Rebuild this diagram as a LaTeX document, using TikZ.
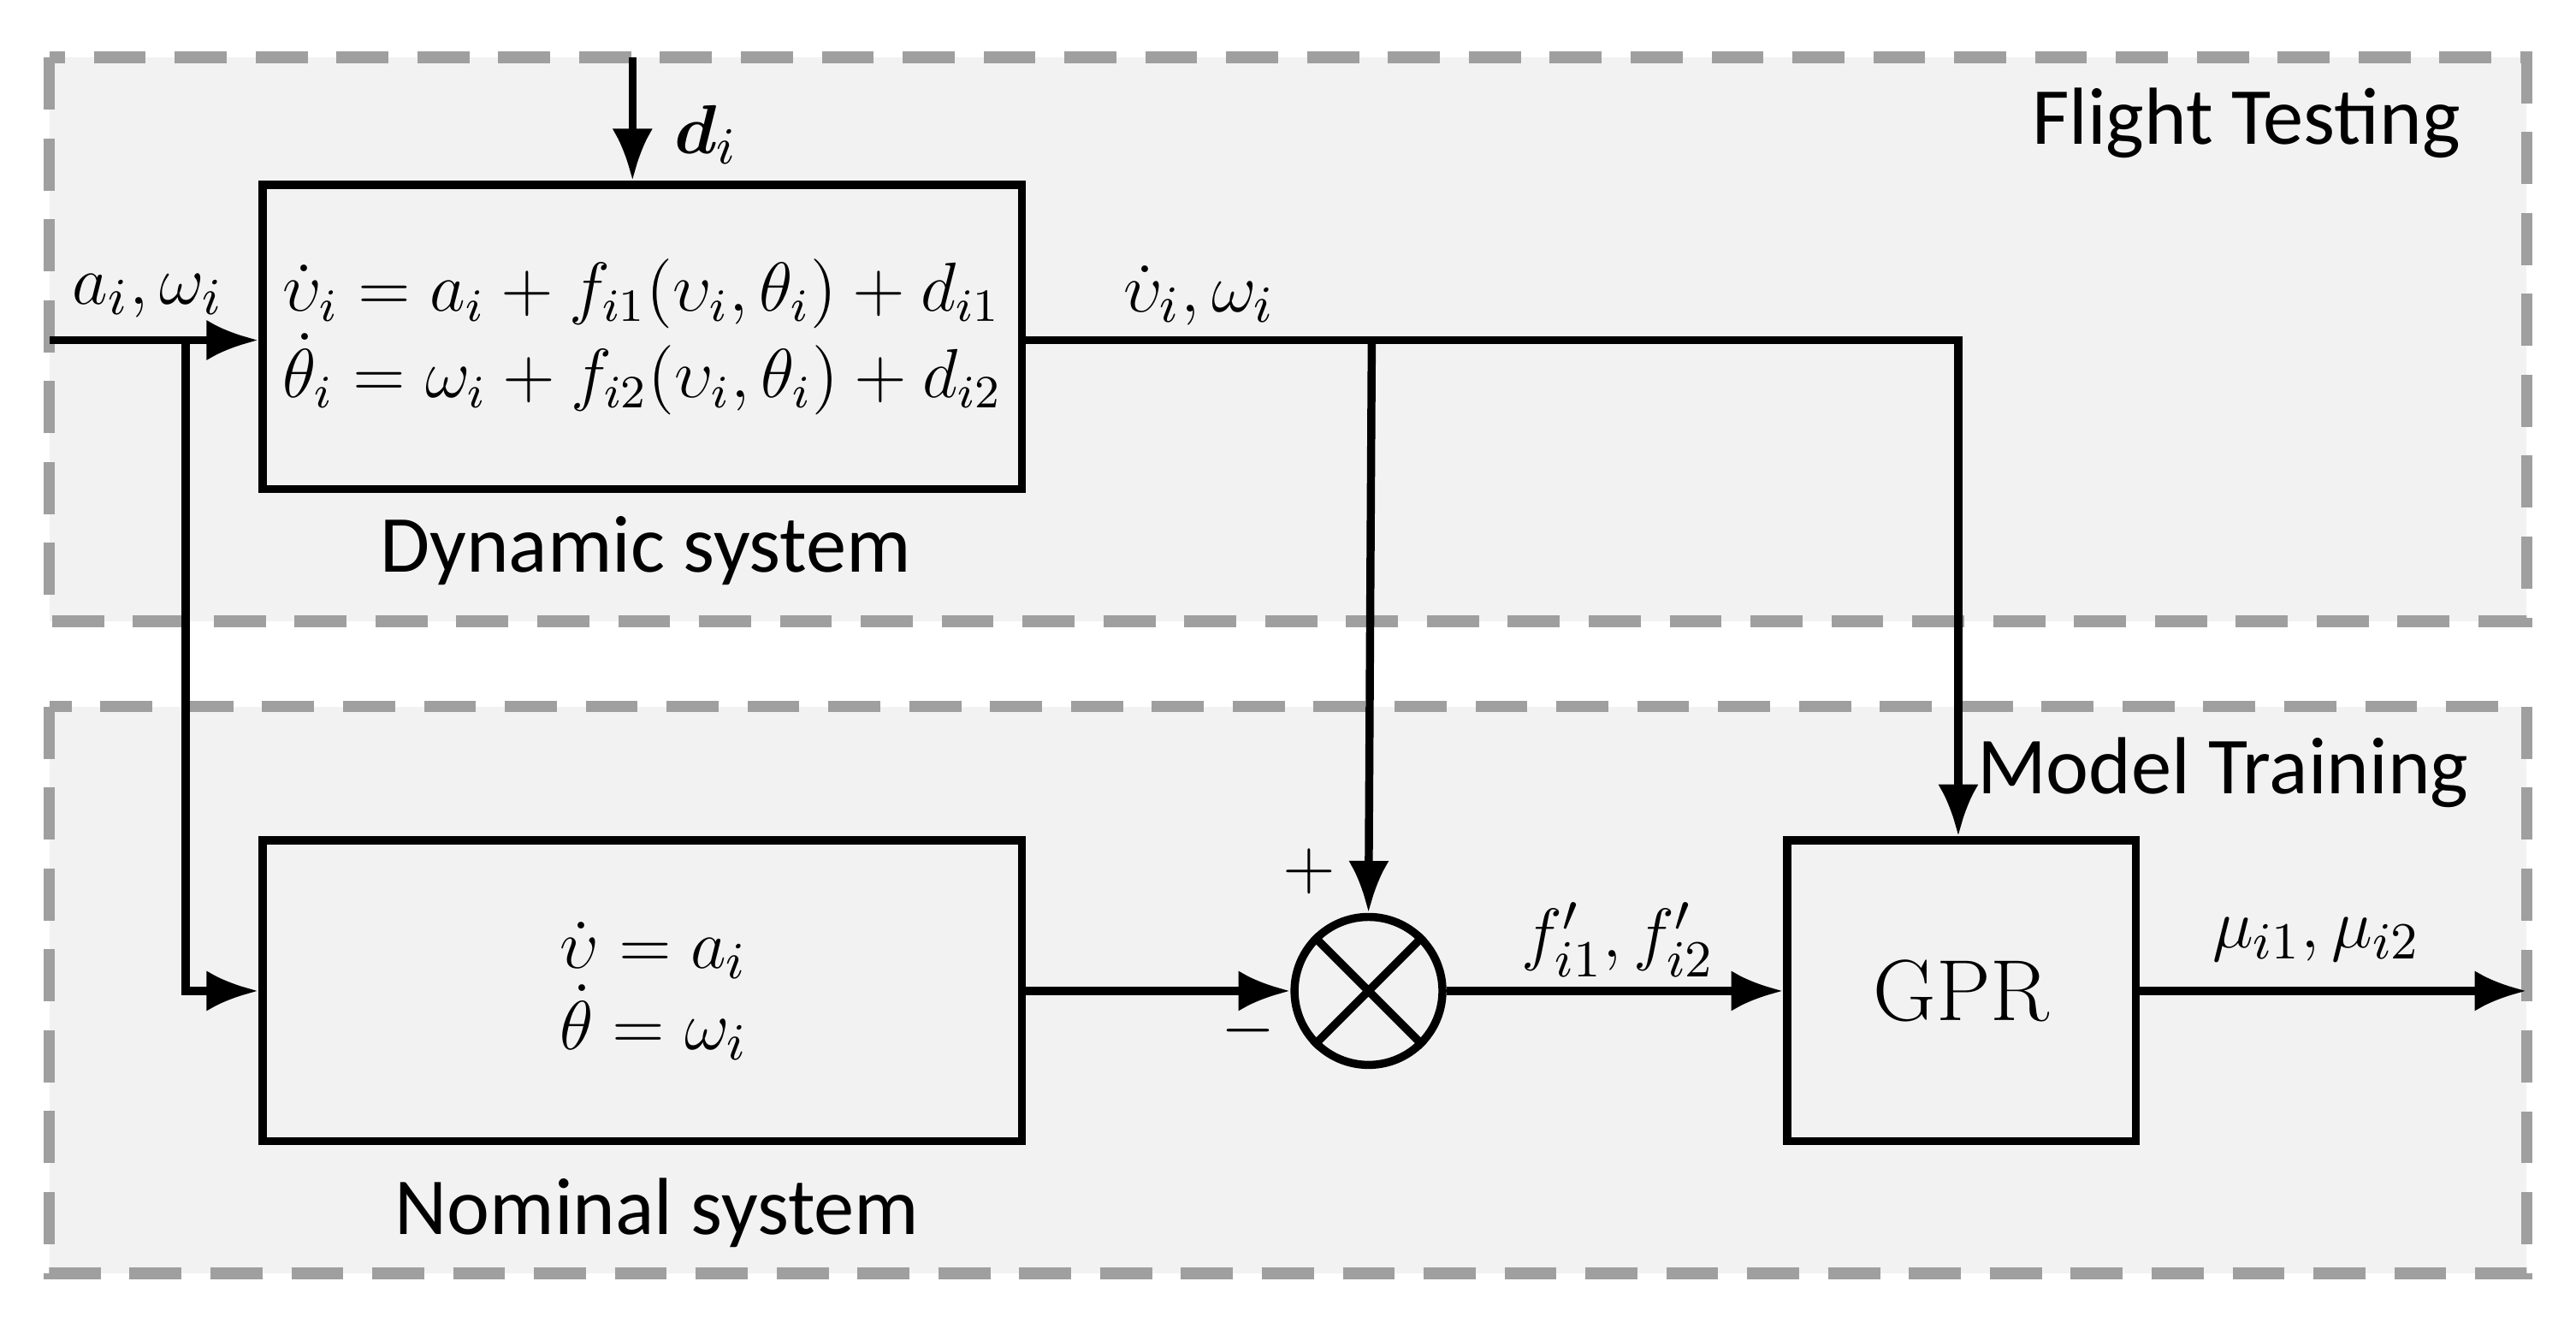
\documentclass[tikz,border=0pt]{standalone}
\usepackage{mathtools}
\usepackage{fontspec}
\newfontfamily\lblfont{Carlito}
\usetikzlibrary{positioning,arrows.meta}
\tikzset{
  zone/.style={draw=gray!75, dashed, dash pattern=on 9pt off 5pt, line width=2pt, fill=gray!10},
  blk/.style={draw, line width=1.4pt, inner sep=0pt},
  sig/.style={line width=1.4pt, -{Latex[length=9pt,width=7pt]}},
  lbl/.style={font=\lblfont\fontsize{14}{16}\selectfont},
  mth/.style={font=\fontsize{13}{16}\selectfont}
}
\begin{document}
\begin{tikzpicture}[x=0.01cm,y=-0.01cm]
  \useasboundingbox (0,0) rectangle (1568,805);
  % regions
  \draw [zone] (30,35) rectangle (1538,378);
  \draw [zone] (30,430) rectangle (1538,775);
  \node [lbl, anchor=east] (ft) at (1510,75) {Flight Testing};
  \node [lbl, anchor=east] (mt) at (1515,470) {Model Training};
  % blocks
  \node [blk, minimum width=4.62cm, minimum height=1.85cm] (dyn) at (391,205) {};
  \node [font=\fontsize{11.5}{15}\selectfont, align=left] (dyneq) at (391,205) {$\dot{\upsilon}_i = a_i + f_{i1}(\upsilon_i,\theta_i) + d_{i1}$\\$\dot{\theta}_i = \omega_i + f_{i2}(\upsilon_i,\theta_i) + d_{i2}$};
  \node [lbl] (dynl) at (393,335) {Dynamic system};
  \node [blk, minimum width=4.62cm, minimum height=1.83cm] (nom) at (391,603) {};
  \node [mth, align=center] (nomeq) at (398,603) {$\dot{\upsilon} = a_i$\\[-2pt]$\dot{\theta} = \omega_i$};
  \node [lbl] (noml) at (400,738) {Nominal system};
  \node [blk, circle, minimum size=0.9cm] (sum) at (833,603) {};
  \draw [line width=1.4pt] (sum.north east) -- (sum.south west) (sum.north west) -- (sum.south east);
  \node [blk, minimum width=2.12cm, minimum height=1.83cm, font=\fontsize{15}{17}\selectfont] (gpr) at (1194,603) {GPR};
  % coordinates
  \coordinate (din) at (30,207);
  \coordinate (dtop) at (385,35);
  \coordinate (br1) at (113,207);
  \coordinate (br1b) at (113,603);
  \coordinate (br2) at (835,207);
  \coordinate (cr) at (1192,207);
  \coordinate (out) at (1538,603);
  % connectors
  \draw [sig] (dtop) -- (dtop |- dyn.north);
  \node [mth, anchor=west] (dl) at (398,82) {$\boldsymbol{d}_i$};
  \draw [sig] (din) -- (din -| dyn.west);
  \node [mth] (inl) at (90,180) {$a_i,\omega_i$};
  \draw [sig] (br1) -- (br1b) -- (nom.west |- br1b);
  \draw [sig] (dyn.east |- cr) -- (cr) -- (gpr.north -| cr);
  \node [mth] (outl) at (730,180) {$\dot{\upsilon}_i,\omega_i$};
  \draw [sig] (br2) -- (sum.north);
  \node [mth] (pl) at (797,530) {$+$};
  \draw [sig] (nom.east) -- (sum.west);
  \node [mth] (ml) at (760,627) {$-$};
  \draw [sig] (sum.east) -- (gpr.west);
  \node [mth] (fl) at (985,572) {$f'_{i1},f'_{i2}$};
  \draw [sig] (gpr.east) -- (out);
  \node [mth] (mul) at (1410,572) {$\mu_{i1},\mu_{i2}$};
\end{tikzpicture}
\end{document}
